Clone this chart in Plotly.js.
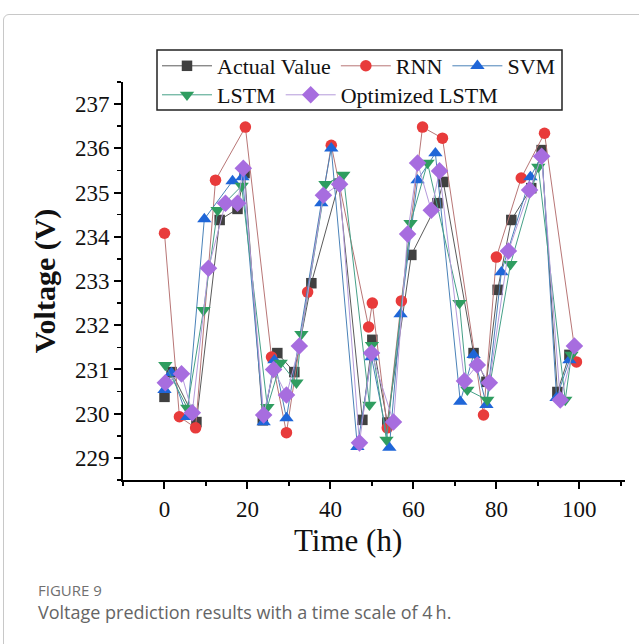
<!DOCTYPE html>
<html>
<head>
<meta charset="utf-8">
<script src="https://cdn.plot.ly/plotly-3.0.1.min.js"></script>
<style>
  html, body { margin: 0; padding: 0; background: #ffffff; }
  #wrap { position: relative; width: 639px; height: 644px; overflow: hidden; }
  #frame { position: absolute; left: 3px; top: 14px; width: 680px; height: 700px; border: 1px solid #c8c8c8; box-sizing: border-box; border-radius: 6px; }
  #chart { position: absolute; left: 0; top: 0; width: 639px; height: 644px; }
  #fig { position: absolute; left: 38px; top: 580px; font-family: "Open Sans", sans-serif; font-size: 15px; color: #707070; }
  #cap { position: absolute; left: 38px; top: 600px; font-family: "Open Sans", sans-serif; font-size: 18px; color: #656565; }
</style>
</head>
<body>
<div id="wrap">
  <div id="frame"></div>
  <div id="chart"></div>
  <div id="fig">FIGURE 9</div>
  <div id="cap">Voltage prediction results with a time scale of 4&#8201;h.</div>
</div>
<script>
// Actual Value
var actualT = [0, 1.7, 7.7, 13.3, 17.6, 19.3, 23.7, 27.2, 31.3, 35.4, 42.0, 47.7, 50.1, 53.7, 59.5, 65.8, 67.2, 74.5, 77.6, 80.3, 83.6, 88.4, 90.9, 94.7, 97.6];
var actualV = [230.38, 230.94, 229.81, 234.38, 234.63, 235.44, 229.85, 231.37, 230.94, 232.95, 235.2, 229.86, 231.67, 229.8, 233.59, 234.76, 235.24, 231.37, 230.72, 232.8, 234.38, 235.1, 235.96, 230.49, 231.33];
// RNN
var rnnT = [0, 3.6, 7.5, 12.3, 19.5, 25.8, 29.4, 34.5, 40.2, 49.2, 50.1, 53.7, 57.1, 62.2, 67.0, 76.9, 80.0, 86.0, 91.6, 99.3];
var rnnV = [234.08, 229.93, 229.68, 235.28, 236.48, 231.28, 229.57, 232.75, 236.07, 231.96, 232.5, 229.68, 232.55, 236.48, 236.23, 229.97, 233.54, 235.33, 236.34, 231.17];
// SVM
var svmT = [0, 1.7, 5.5, 9.6, 16.4, 18.8, 23.9, 26.5, 29.4, 37.8, 40.2, 46.5, 49.9, 54.2, 56.9, 61.0, 65.3, 71.3, 74.5, 77.6, 81.2, 88.2, 91.0, 94.5, 97.6];
var svmV = [230.54, 230.92, 229.93, 234.4, 235.26, 235.35, 229.81, 231.21, 229.9, 234.76, 236.0, 229.25, 231.28, 229.23, 232.25, 235.28, 235.89, 230.27, 231.33, 230.2, 233.2, 235.35, 235.85, 230.36, 231.21];
// LSTM
var lstmT = [0.2, 5.5, 9.4, 12.8, 18.6, 24.8, 28.0, 31.8, 33.0, 38.8, 43.1, 49.4, 50.0, 53.5, 59.3, 63.4, 71.1, 73.0, 77.8, 83.4, 90.1, 96.6, 98.1];
var lstmV = [231.1, 230.13, 232.34, 234.6, 235.15, 230.15, 231.15, 230.7, 231.8, 235.19, 235.4, 230.2, 231.55, 229.41, 234.31, 235.67, 232.5, 230.54, 230.31, 233.38, 235.58, 230.31, 231.33];
// Optimized LSTM
var optT = [0.2, 4.1, 6.7, 10.6, 14.7, 17.6, 19.0, 23.9, 26.3, 29.4, 32.5, 38.3, 42.2, 47.0, 49.9, 55.2, 58.6, 61.0, 64.3, 66.3, 72.3, 75.4, 78.3, 82.9, 88.0, 90.9, 95.4, 98.8];
var optV = [230.7, 230.9, 230.02, 233.29, 234.76, 234.76, 235.55, 229.97, 231.0, 230.42, 231.53, 234.94, 235.19, 229.34, 231.37, 229.81, 234.06, 235.67, 234.6, 235.49, 230.74, 231.1, 230.7, 233.68, 235.06, 235.82, 230.31, 231.53];

var xTicks = [0, 20, 40, 60, 80, 100];
var yTicks = [229, 230, 231, 232, 233, 234, 235, 236, 237];

var serif = "Liberation Serif, Times New Roman, serif";

function tr(name, x, y, lineColor, mColor, symbol, size, legend) {
  return {
    type: 'scatter', mode: 'lines+markers', name: name, x: x, y: y,
    line: {color: lineColor, width: 1},
    marker: {color: mColor, symbol: symbol, size: size, line: {width: 0}},
    legend: legend
  };
}

var data = [
  tr('Actual Value', actualT, actualV, '#5a5a5a', '#404040', 'square', 10.5, 'legend'),
  tr('RNN', rnnT, rnnV, '#b87676', '#e83b3b', 'circle', 11.5, 'legend'),
  tr('SVM', svmT, svmV, '#4a82b8', '#1f66d8', 'triangle-up', 12.5, 'legend'),
  tr('LSTM', lstmT, lstmV, '#45a087', '#2f9d60', 'triangle-down', 12.5, 'legend2'),
  tr('Optimized LSTM', optT, optV, '#b49adb', '#a76ddf', 'diamond', 13.5, 'legend2')
];

// plot area in pixels: x 123..625, y 82..480
var L = 123, W = 502, B = 480, H = 398;
function px(xp) { return (xp - L) / W; }
function py(yp) { return (B - yp) / H; }

var legendCommon = {
  orientation: 'h', xref: 'paper', yref: 'paper',
  xanchor: 'left', yanchor: 'middle',
  bgcolor: 'rgba(0,0,0,0)', borderwidth: 0,
  font: {family: serif, size: 22, color: '#111'},
  itemwidth: 50, tracegroupgap: 0, traceorder: 'normal'
};

var layout = {
  width: 639, height: 644,
  margin: {l: 123, r: 14, t: 82, b: 164, autoexpand: false},
  paper_bgcolor: 'rgba(0,0,0,0)', plot_bgcolor: 'rgba(0,0,0,0)',
  showlegend: true,
  legend: Object.assign({}, legendCommon, {x: px(157), y: py(66)}),
  legend2: Object.assign({}, legendCommon, {x: px(157), y: py(95)}),
  xaxis: {
    range: [-10, 111], showgrid: false, zeroline: false,
    showline: true, linecolor: '#000', linewidth: 2,
    tickmode: 'array', tickvals: xTicks, ticktext: xTicks.map(String),
    ticks: 'outside', ticklen: 7, tickwidth: 2, tickcolor: '#000',
    minor: {dtick: 10, ticks: 'outside', ticklen: 4, tickwidth: 1.5, tickcolor: '#000', showgrid: false, tick0: -10},
    tickfont: {family: serif, size: 23, color: '#111'}
  },
  yaxis: {
    range: [228.5, 237.5], showgrid: false, zeroline: false,
    showline: true, linecolor: '#000', linewidth: 2,
    tickmode: 'array', tickvals: yTicks, ticktext: yTicks.map(String),
    ticks: 'outside', ticklen: 7, tickwidth: 2, tickcolor: '#000',
    minor: {dtick: 0.5, tick0: 228.5, ticks: 'outside', ticklen: 4, tickwidth: 1.5, tickcolor: '#000', showgrid: false},
    tickfont: {family: serif, size: 23, color: '#111'},
    title: {text: 'Voltage (V)', font: {family: serif, size: 30, color: '#111', weight: 'bold'}, standoff: 10}
  },
  annotations: [{
    text: 'Time (h)', xref: 'paper', yref: 'paper', x: px(348), y: py(540),
    xanchor: 'center', yanchor: 'middle', showarrow: false,
    font: {family: serif, size: 31, color: '#111'}
  }],
  shapes: [{
    type: 'rect', xref: 'paper', yref: 'paper',
    x0: px(157), x1: px(562), y0: py(110), y1: py(50),
    line: {color: '#222', width: 1.5}, fillcolor: 'rgba(255,255,255,0)', layer: 'above'
  }]
};

Plotly.newPlot('chart', data, layout, {displayModeBar: false, staticPlot: true});
</script>
</body>
</html>
